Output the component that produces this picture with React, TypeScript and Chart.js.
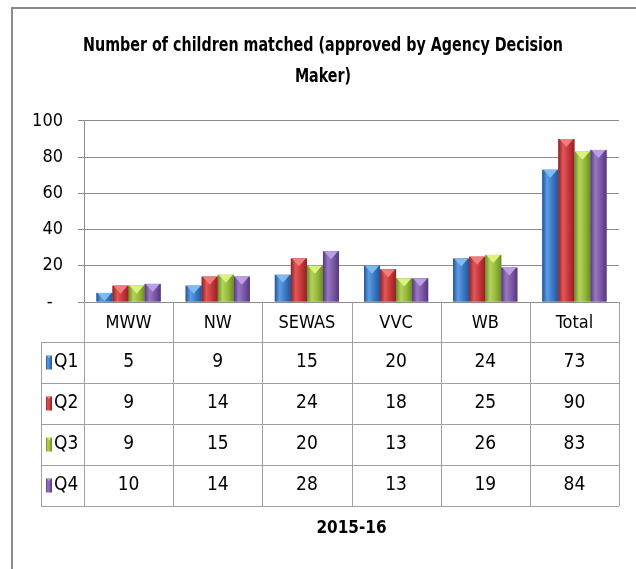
import React, { useEffect, useRef } from "react";
import { Chart, registerables } from "chart.js";

Chart.register(...registerables);

const categories = ["MWW", "NW", "SEWAS", "VVC", "WB", "Total"];
const seriesNames = ["Q1", "Q2", "Q3", "Q4"];
const q1 = [5, 9, 15, 20, 24, 73];
const q2 = [9, 14, 24, 18, 25, 90];
const q3 = [9, 15, 20, 13, 26, 83];
const q4 = [10, 14, 28, 13, 19, 84];
const yTicks = [0, 20, 40, 60, 80, 100];
const titleLines = ["Number of children matched (approved by Agency Decision", "Maker)"];
const xTitle = "2015-16";

const PALETTE = [
  { base: "#3a78c4", light: "#5d9de2", dark: "#24559a", tri: "#7fbaf2" },
  { base: "#c63538", light: "#e05858", dark: "#8f2225", tri: "#f27c7c" },
  { base: "#95b93a", light: "#b3d45a", dark: "#6c8c25", tri: "#dcf27e" },
  { base: "#7a57a5", light: "#9877c2", dark: "#54387c", tri: "#bc9ee4" },
];

const FONT = "'DejaVu Sans Condensed', 'DejaVu Sans', sans-serif";
const GRID = "#8c8c8c";
const TABLE_LINE = "#a0a0a0";
const ROW_HEAD_LEFT = 41;
const LABEL_ROW_H = 40;
const ROW_H = 41;
const TITLE_CENTER_X = 323;
const TITLE_WIDTH = 480;

function paintBar(ctx: CanvasRenderingContext2D, pal: any, l: number, top: number, w: number, h: number) {
  if (h <= 0) return;
  const g = ctx.createLinearGradient(l, 0, l + w, 0);
  g.addColorStop(0, pal.dark);
  g.addColorStop(0.3, pal.light);
  g.addColorStop(0.65, pal.base);
  g.addColorStop(1, pal.dark);
  ctx.fillStyle = g;
  ctx.fillRect(l, top, w, h);
  const th = Math.min(w * 0.5, h);
  ctx.beginPath();
  ctx.moveTo(l + 1, top);
  ctx.lineTo(l + w - 1, top);
  ctx.lineTo(l + w / 2, top + th);
  ctx.closePath();
  ctx.fillStyle = pal.tri;
  ctx.fill();
}

const framePlugin = {
  id: "frame",
  beforeDraw(chart: any) {
    const ctx = chart.ctx as CanvasRenderingContext2D;
    ctx.save();
    ctx.fillStyle = "#ffffff";
    ctx.fillRect(0, 0, chart.width, chart.height);
    ctx.strokeStyle = "#8a8a8a";
    ctx.lineWidth = 2;
    ctx.beginPath();
    ctx.moveTo(12, chart.height);
    ctx.lineTo(12, 8);
    ctx.lineTo(chart.width, 8);
    ctx.stroke();
    ctx.restore();
  },
};

const barStylePlugin = {
  id: "barStyle",
  afterDatasetsDraw(chart: any) {
    const ctx = chart.ctx as CanvasRenderingContext2D;
    ctx.save();
    chart.data.datasets.forEach((_ds: any, di: number) => {
      const meta = chart.getDatasetMeta(di);
      const pal = PALETTE[di];
      meta.data.forEach((el: any) => {
        const { x, y, base, width } = el.getProps(["x", "y", "base", "width"], true);
        paintBar(ctx, pal, x - width / 2, y, width, base - y);
      });
    });
    ctx.restore();
  },
};

const titlePlugin = {
  id: "narrowTitle",
  afterDraw(chart: any) {
    const ctx = chart.ctx as CanvasRenderingContext2D;
    const t = chart.titleBlock;
    if (!t) return;
    ctx.save();
    ctx.fillStyle = "#000";
    ctx.font = `bold 20px ${FONT}`;
    ctx.textAlign = "center";
    ctx.textBaseline = "middle";
    const w = ctx.measureText(titleLines[0]).width;
    const s = Math.min(1, TITLE_WIDTH / w);
    const lh = 31;
    titleLines.forEach((line, i) => {
      ctx.save();
      ctx.translate(TITLE_CENTER_X, t.top + 30 + lh / 2 + i * lh);
      ctx.scale(s, 1);
      ctx.fillText(line, 0, 0);
      ctx.restore();
    });
    ctx.restore();
  },
};

const tablePlugin = {
  id: "dataTable",
  afterDraw(chart: any) {
    const ctx = chart.ctx as CanvasRenderingContext2D;
    const xs = chart.scales.x;
    const area = chart.chartArea;
    const step = xs.getPixelForValue(1) - xs.getPixelForValue(0);
    const tableTop = area.bottom + LABEL_ROW_H;
    const rows = [q1, q2, q3, q4];
    const tableBottom = tableTop + rows.length * ROW_H;
    ctx.save();
    ctx.strokeStyle = TABLE_LINE;
    ctx.lineWidth = 1;
    ctx.beginPath();
    for (let i = 0; i <= categories.length; i++) {
      const bx = Math.round(xs.getPixelForValue(0) - step / 2 + i * step) + 0.5;
      ctx.moveTo(bx, area.bottom);
      ctx.lineTo(bx, tableBottom);
    }
    ctx.moveTo(ROW_HEAD_LEFT + 0.5, tableTop);
    ctx.lineTo(ROW_HEAD_LEFT + 0.5, tableBottom);
    for (let r = 0; r <= rows.length; r++) {
      const yy = Math.round(tableTop + r * ROW_H) + 0.5;
      ctx.moveTo(ROW_HEAD_LEFT, yy);
      ctx.lineTo(area.right, yy);
    }
    ctx.stroke();

    ctx.textBaseline = "middle";
    rows.forEach((vals, r) => {
      const cy = tableTop + r * ROW_H + ROW_H / 2;
      paintBar(ctx, PALETTE[r], ROW_HEAD_LEFT + 5, cy - 7, 6, 14);
      ctx.fillStyle = "#000";
      ctx.font = `19px ${FONT}`;
      ctx.textAlign = "left";
      ctx.fillText(seriesNames[r], ROW_HEAD_LEFT + 13, cy);
      ctx.textAlign = "center";
      vals.forEach((v, i) => {
        ctx.fillText(String(v), xs.getPixelForValue(i), cy);
      });
    });
    ctx.restore();
  },
};

export default function App() {
  const ref = useRef<HTMLCanvasElement | null>(null);
  useEffect(() => {
    if (!ref.current) return;
    const allSeries = [q1, q2, q3, q4];
    const chart = new Chart(ref.current, {
      type: "bar",
      data: {
        labels: categories,
        datasets: allSeries.map((d, i) => ({
          label: seriesNames[i],
          data: d,
          backgroundColor: PALETTE[i].base,
          borderWidth: 0,
          categoryPercentage: 0.72,
          barPercentage: 1,
        })),
      },
      options: {
        responsive: false,
        animation: false,
        devicePixelRatio: 1,
        layout: { padding: { left: 10, right: 17, top: 0, bottom: 0 } },
        plugins: {
          legend: { display: false },
          tooltip: { enabled: false },
          title: {
            display: true,
            text: titleLines,
            color: "rgba(0,0,0,0)",
            font: { family: FONT, size: 19, weight: "bold", lineHeight: 1.63 },
            padding: { top: 30, bottom: 29 },
          },
        },
        scales: {
          x: {
            grid: { display: false },
            border: { display: true, color: GRID, width: 1 },
            ticks: {
              color: "#000",
              font: { family: FONT, size: 18 },
              padding: 3,
              maxRotation: 0,
              autoSkip: false,
            },
            title: {
              display: true,
              text: xTitle,
              color: "#000",
              font: { family: FONT, size: 17, weight: "bold", lineHeight: 1.2 },
              padding: { top: 0, bottom: 30 },
            },
            afterFit(scale: any) {
              scale.height = 267;
            },
          },
          y: {
            min: 0,
            max: 100,
            afterBuildTicks(scale: any) {
              scale.ticks = yTicks.map((v) => ({ value: v }));
            },
            grid: { color: GRID, lineWidth: 1, tickLength: 6, drawTicks: true },
            border: { display: true, color: GRID, width: 1 },
            ticks: {
              color: "#000",
              font: { family: FONT, size: 18 },
              padding: 15,
              callback: (v: any) => (Number(v) === 0 ? "-  " : String(v)),
            },
            afterFit(scale: any) {
              scale.width = 74;
            },
          },
        },
      },
      plugins: [framePlugin, barStylePlugin, tablePlugin, titlePlugin],
    } as any);
    return () => chart.destroy();
  }, []);
  return (
    <div style={{ position: "absolute", left: 0, top: 0 }}>
      <canvas ref={ref} width={636} height={569} style={{ display: "block", width: 636, height: 569 }} />
    </div>
  );
}
